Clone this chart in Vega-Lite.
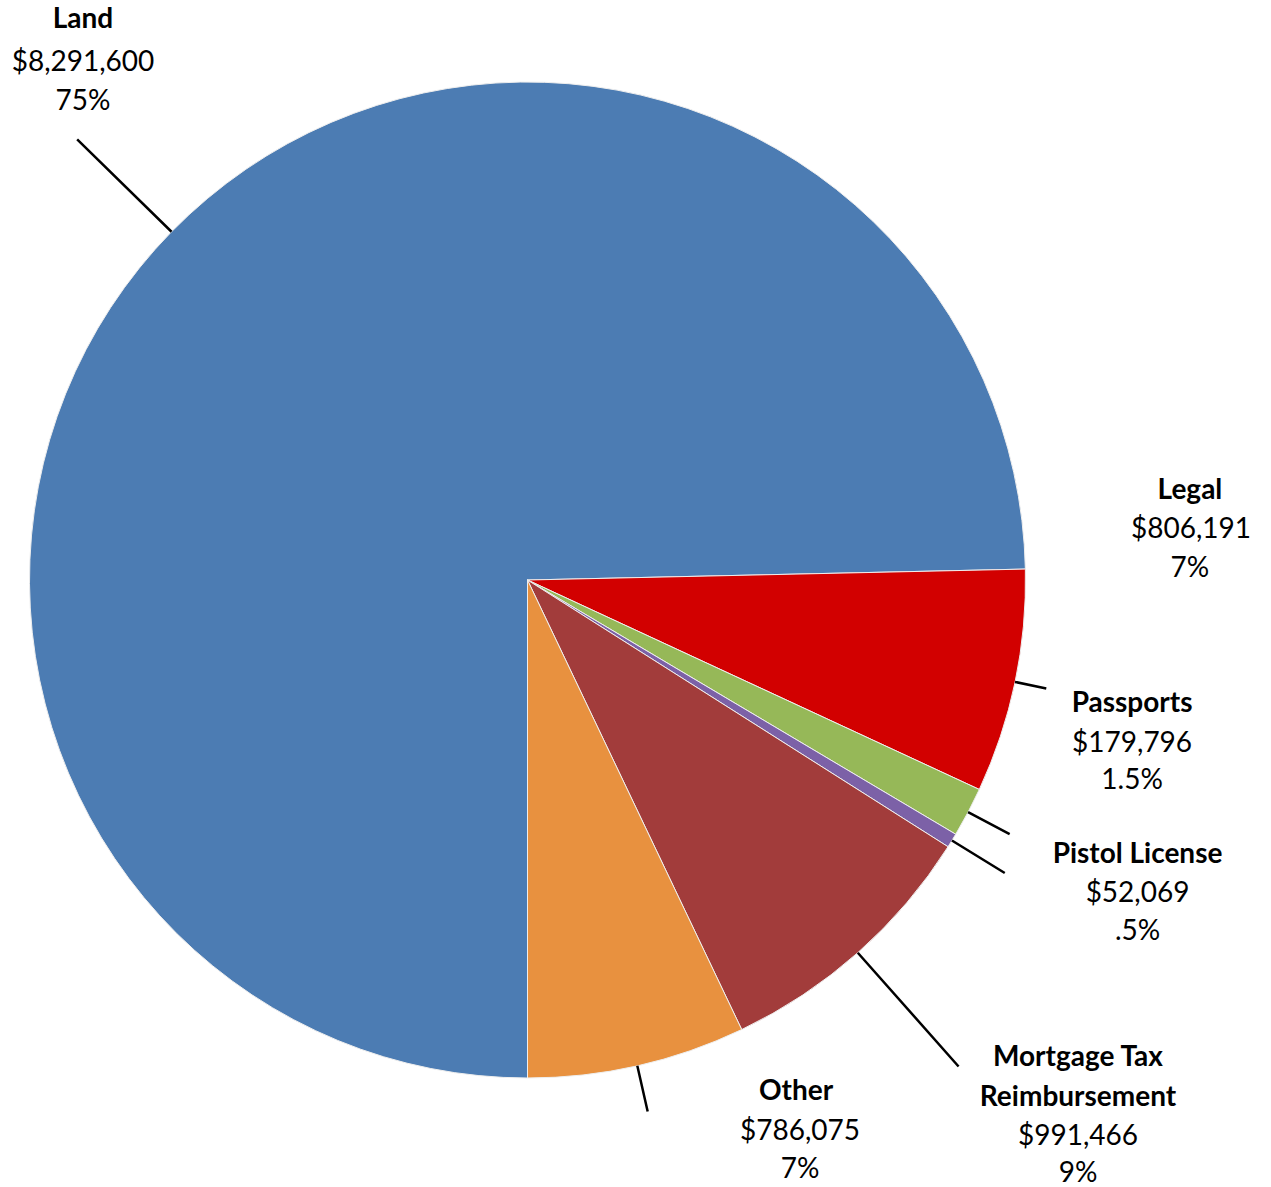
{
  "$schema": "https://vega.github.io/schema/vega-lite/v6.json",
  "width": 1055,
  "height": 1160,
  "autosize": "none",
  "padding": {"left": 0, "top": 0, "right": 216, "bottom": 27},
  "background": "white",
  "config": {
    "view": {"stroke": null},
    "text": {"font": "Lato", "fontSize": 28, "color": "black", "align": "center", "baseline": "alphabetic"}
  },
  "data": {
    "values": [
      {"category": "Land", "value": 8291600, "pct": "75%"},
      {"category": "Legal", "value": 806191, "pct": "7%"},
      {"category": "Passports", "value": 179796, "pct": "1.5%"},
      {"category": "Pistol License", "value": 52069, "pct": ".5%"},
      {"category": "Mortgage Tax\nReimbursement", "value": 991466, "pct": "9%"},
      {"category": "Other", "value": 786075, "pct": "7%"}
    ]
  },
  "transform": [
    {"window": [{"op": "sum", "field": "value", "as": "cum"}], "frame": [null, 0]},
    {"calculate": "datum.cum - datum.value / 2", "as": "mid"}
  ],
  "layer": [
    {
      "mark": {"type": "arc", "outerRadius": 498, "stroke": "#eeeeee", "strokeWidth": 1},
      "encoding": {
        "theta": {"field": "value", "type": "quantitative", "stack": true, "scale": {"range": [3.141592653589793, 9.42477796076938]}},
        "order": {"field": "cum", "type": "quantitative"},
        "color": {
          "field": "category", "type": "nominal", "legend": null,
          "scale": {
            "domain": ["Land", "Legal", "Passports", "Pistol License", "Mortgage Tax\nReimbursement", "Other"],
            "range": ["#4C7CB3", "#D20000", "#96B858", "#7C61A7", "#A23C3B", "#E8913F"]
          }
        }
      }
    },
    {
      "transform": [{"filter": "datum.category === 'Land'"}],
      "encoding": {"theta": {"field": "mid", "type": "quantitative", "stack": null}},
      "layer": [
        {"mark": {"type": "arc", "innerRadius": 498, "outerRadius": 630, "filled": false, "color": "black", "strokeWidth": 2.5}, "encoding": {"theta2": {"field": "mid"}}},
        {"mark": {"type": "text", "radius": 498, "dx": -88.5, "dy": -203.8, "fontWeight": "bold"}, "encoding": {"text": {"field": "category"}}},
        {"mark": {"type": "text", "radius": 498, "dx": -88.5, "dy": -160.8}, "encoding": {"text": {"field": "value", "format": "$,.0f"}}},
        {"mark": {"type": "text", "radius": 498, "dx": -88.5, "dy": -121.8}, "encoding": {"text": {"field": "pct"}}}
      ]
    },
    {
      "transform": [{"filter": "datum.category === 'Legal'"}],
      "encoding": {"theta": {"field": "mid", "type": "quantitative", "stack": null}},
      "layer": [
        {"mark": {"type": "arc", "innerRadius": 498, "outerRadius": 530, "filled": false, "color": "black", "strokeWidth": 2.5}, "encoding": {"theta2": {"field": "mid"}}},
        {"mark": {"type": "text", "radius": 498, "dx": 175, "dy": -182.9, "fontWeight": "bold"}, "encoding": {"text": {"field": "category"}}},
        {"mark": {"type": "text", "radius": 498, "dx": 176, "dy": -143.9}, "encoding": {"text": {"field": "value", "format": "$,.0f"}}},
        {"mark": {"type": "text", "radius": 498, "dx": 175, "dy": -104.9}, "encoding": {"text": {"field": "pct"}}}
      ]
    },
    {
      "transform": [{"filter": "datum.category === 'Passports'"}],
      "encoding": {"theta": {"field": "mid", "type": "quantitative", "stack": null}},
      "layer": [
        {"mark": {"type": "arc", "innerRadius": 498, "outerRadius": 545, "filled": false, "color": "black", "strokeWidth": 2.5}, "encoding": {"theta2": {"field": "mid"}}},
        {"mark": {"type": "text", "radius": 498, "dx": 164, "dy": -100.2, "fontWeight": "bold"}, "encoding": {"text": {"field": "category"}}},
        {"mark": {"type": "text", "radius": 498, "dx": 164, "dy": -60.2}, "encoding": {"text": {"field": "value", "format": "$,.0f"}}},
        {"mark": {"type": "text", "radius": 498, "dx": 164, "dy": -23.2}, "encoding": {"text": {"field": "pct"}}}
      ]
    },
    {
      "transform": [{"filter": "datum.category === 'Pistol License'"}],
      "encoding": {"theta": {"field": "mid", "type": "quantitative", "stack": null}},
      "layer": [
        {"mark": {"type": "arc", "innerRadius": 498, "outerRadius": 560, "filled": false, "color": "black", "strokeWidth": 2.5}, "encoding": {"theta2": {"field": "mid"}}},
        {"mark": {"type": "text", "radius": 498, "dx": 185.6, "dy": 22.4, "fontWeight": "bold"}, "encoding": {"text": {"field": "category"}}},
        {"mark": {"type": "text", "radius": 498, "dx": 185.6, "dy": 61.4}, "encoding": {"text": {"field": "value", "format": "$,.0f"}}},
        {"mark": {"type": "text", "radius": 498, "dx": 185.6, "dy": 99.4}, "encoding": {"text": {"field": "pct"}}}
      ]
    },
    {
      "transform": [{"filter": "datum.value === 991466"}],
      "encoding": {"theta": {"field": "mid", "type": "quantitative", "stack": null}},
      "layer": [
        {"mark": {"type": "arc", "innerRadius": 498, "outerRadius": 650, "filled": false, "color": "black", "strokeWidth": 2.5}, "encoding": {"theta2": {"field": "mid"}}},
        {"mark": {"type": "text", "radius": 498, "dx": 220.2, "dy": 113.3, "fontWeight": "bold", "lineBreak": "\n", "lineHeight": 40}, "encoding": {"text": {"field": "category"}}},
        {"mark": {"type": "text", "radius": 498, "dx": 220.2, "dy": 192.3}, "encoding": {"text": {"field": "value", "format": "$,.0f"}}},
        {"mark": {"type": "text", "radius": 498, "dx": 220.2, "dy": 229.3}, "encoding": {"text": {"field": "pct"}}}
      ]
    },
    {
      "transform": [{"filter": "datum.category === 'Other'"}],
      "encoding": {"theta": {"field": "mid", "type": "quantitative", "stack": null}},
      "layer": [
        {"mark": {"type": "arc", "innerRadius": 498, "outerRadius": 545, "filled": false, "color": "black", "strokeWidth": 2.5}, "encoding": {"theta2": {"field": "mid"}}},
        {"mark": {"type": "text", "radius": 498, "dx": 158.7, "dy": 34.3, "fontWeight": "bold"}, "encoding": {"text": {"field": "category"}}},
        {"mark": {"type": "text", "radius": 498, "dx": 162.7, "dy": 74.3}, "encoding": {"text": {"field": "value", "format": "$,.0f"}}},
        {"mark": {"type": "text", "radius": 498, "dx": 162.7, "dy": 112.3}, "encoding": {"text": {"field": "pct"}}}
      ]
    }
  ]
}
